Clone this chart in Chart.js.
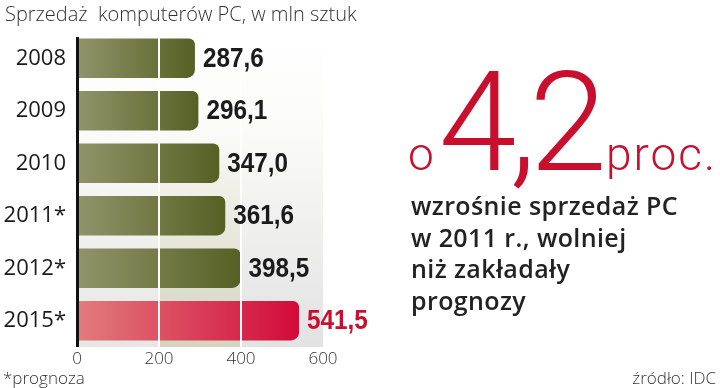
<!DOCTYPE html>
<html>
<head>
<meta charset="utf-8">
<script src="https://cdn.jsdelivr.net/npm/chart.js@4"></script>
<style>
  body { margin: 0; background: #fff; }
  #wrap { position: relative; width: 720px; height: 388px; overflow: hidden; font-family: "Open Sans", sans-serif; }
  #chart { position: absolute; left: 0; top: 0; }
  .t { position: absolute; white-space: nowrap; }
  #title { left: 5px; top: 0px; font-size: 20px; font-weight: 300; color: #333; }
  #note { left: 3px; top: 366px; font-size: 17px; font-weight: 300; color: #333; }
  #src { right: 4px; top: 366px; font-size: 17px; font-weight: 300; color: #333; }
  #head { left: 408px; top: 40px; color: #c8102e; font-family: Roboto, sans-serif; font-weight: 300; display: flex; align-items: baseline; }
  #head .s { font-size: 46px; letter-spacing: 2px; }
  #head .b { font-size: 140px; letter-spacing: -7px; margin: 0 6px 0 3px; }
  #desc { left: 411px; top: 190px; font-size: 25px; font-weight: 600; color: #222; line-height: 31.5px; letter-spacing: 0.4px; }
</style>
</head>
<body>
<div id="wrap">
  <canvas id="chart" width="720" height="388"></canvas>
  <div class="t" id="title">Sprzedaż&nbsp; komputerów PC, w mln sztuk</div>
  <div class="t" id="head"><span class="s">o</span><span class="b">4,2</span><span class="s">proc.</span></div>
  <div class="t" id="desc">wzrośnie sprzedaż PC<br>w 2011 r., wolniej<br>niż zakładały<br>prognozy</div>
  <div class="t" id="note">*prognoza</div>
  <div class="t" id="src">źródło: IDC</div>
</div>
<script>
const years = ["2008", "2009", "2010", "2011*", "2012*", "2015*"];
const sales = [287.6, 296.1, 347.0, 361.6, 398.5, 541.5];
const forecastFrom = 5; // last bar is highlighted red
const xTicks = [0, 200, 400, 600];

function barFill(ctx) {
  const chart = ctx.chart;
  const area = chart.chartArea;
  if (!area) return '#6b7336';
  const g = chart.ctx.createLinearGradient(area.left, 0, chart.scales.x.getPixelForValue(sales[ctx.dataIndex]), 0);
  if (ctx.dataIndex >= forecastFrom) {
    g.addColorStop(0, '#e27c7c');
    g.addColorStop(1, '#d20a3a');
  } else {
    g.addColorStop(0, '#90956a');
    g.addColorStop(1, '#566024');
  }
  return g;
}

const bandColors = ['#e6e6e4', '#d4d4bf', '#e2e2e2'];
const bandsPlugin = {
  id: 'bands',
  beforeDatasetsDraw(chart) {
    const { ctx, chartArea: a, scales: { x } } = chart;
    ctx.save();
    for (let i = 0; i < xTicks.length - 1; i++) {
      const x0 = x.getPixelForValue(xTicks[i]);
      const x1 = x.getPixelForValue(xTicks[i + 1]);
      const g = ctx.createLinearGradient(0, a.top, 0, a.bottom);
      g.addColorStop(0, '#ffffff');
      g.addColorStop(0.3, '#fbfbf9');
      g.addColorStop(1, bandColors[i]);
      ctx.fillStyle = g;
      ctx.fillRect(x0, a.top, x1 - x0, a.bottom - a.top);
    }
    ctx.restore();
  }
};

const valueLabels = {
  id: 'valueLabels',
  afterDraw(chart) {
    const { ctx, chartArea: a, scales: { x } } = chart;
    const meta = chart.getDatasetMeta(0);
    ctx.save();
    // axis line at zero
    const x0 = Math.round(x.getPixelForValue(0));
    ctx.fillStyle = '#111';
    ctx.fillRect(x0 - 1, a.top + 5, 3, a.bottom - a.top - 5);

    ctx.font = 'bold 27px "Liberation Sans", Arial, sans-serif';
    ctx.textBaseline = 'middle';
    meta.data.forEach((bar, i) => {
      ctx.save();
      ctx.translate(bar.x + 8, bar.y + 1);
      ctx.scale(0.9, 1);
      ctx.fillStyle = i >= forecastFrom ? '#c8102e' : '#1b1b1b';
      ctx.fillText(sales[i].toFixed(1).replace('.', ','), 0, 0);
      ctx.restore();
    });
    ctx.restore();
  }
};

new Chart(document.getElementById('chart'), {
  type: 'bar',
  data: {
    labels: years,
    datasets: [{
      data: sales,
      backgroundColor: barFill,
      borderRadius: { topLeft: 0, bottomLeft: 0, topRight: 6, bottomRight: 8 },
      borderSkipped: false,
      barPercentage: 0.75,
      categoryPercentage: 1
    }]
  },
  options: {
    indexAxis: 'y',
    responsive: false,
    animation: false,
    devicePixelRatio: 1,
    layout: { padding: { top: 32, bottom: 19, left: 0, right: 397 } },
    plugins: { legend: { display: false }, tooltip: { enabled: false } },
    scales: {
      x: {
        min: 0, max: 600,
        afterBuildTicks: s => { s.ticks = xTicks.map(v => ({ value: v })); },
        afterFit: s => { s.height = 22; },
        grid: {
          z: 1,
          color: c => (c.tick && (c.tick.value === 200 || c.tick.value === 400)) ? '#ffffff' : 'rgba(0,0,0,0)',
          lineWidth: 2,
          drawTicks: false
        },
        border: { display: false },
        ticks: { padding: 2, color: '#333', font: { family: 'Open Sans', size: 17, weight: 300 } }
      },
      y: {
        afterFit: s => { s.width = 77; },
        grid: { display: false, drawTicks: false },
        border: { display: false },
        ticks: { padding: 11, color: '#1a1a1a', font: { family: 'Open Sans', size: 22 } }
      }
    }
  },
  plugins: [bandsPlugin, valueLabels]
});
</script>
</body>
</html>
